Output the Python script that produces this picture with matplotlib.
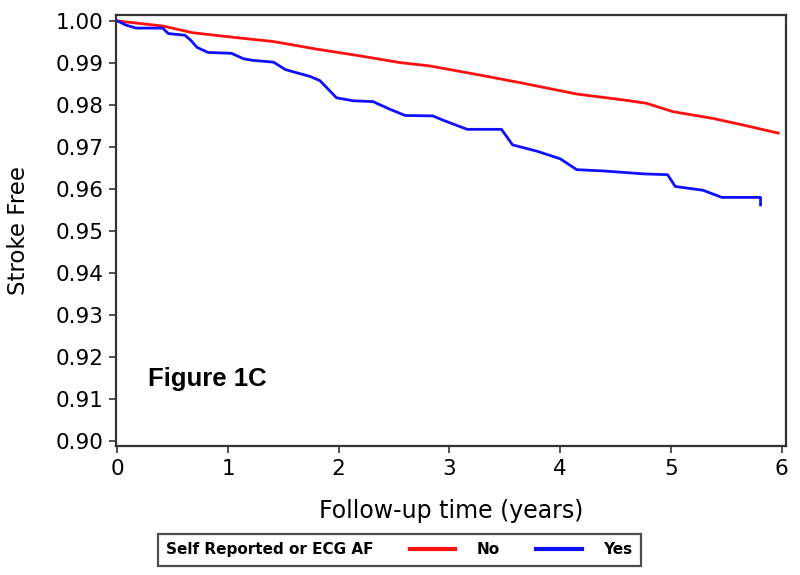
import matplotlib
matplotlib.use("Agg")
import matplotlib.pyplot as plt
from matplotlib.lines import Line2D

# Kaplan-Meier estimates
t_no = [0.0, 0.41, 0.68, 1.05, 1.41, 1.80, 2.19, 2.55, 2.82, 3.28, 3.66,
        4.15, 4.57, 4.78, 5.02, 5.38, 5.69, 5.97]
s_no = [1.0, 0.9988, 0.9972, 0.9961, 0.9951, 0.9933, 0.9917, 0.9901, 0.9893,
        0.9871, 0.9852, 0.9826, 0.9812, 0.9804, 0.9784, 0.9768, 0.9750, 0.9733]

t_yes = [0.0, 0.08, 0.17, 0.41, 0.46, 0.61, 0.66, 0.72, 0.82, 1.03, 1.14,
         1.23, 1.41, 1.52, 1.74, 1.83, 1.98, 2.13, 2.31, 2.46, 2.60, 2.85,
         2.94, 3.16, 3.47, 3.57, 3.79, 4.00, 4.15, 4.39, 4.75, 4.97, 5.04,
         5.29, 5.46, 5.81, 5.81]
s_yes = [1.0, 0.9990, 0.9983, 0.9983, 0.9970, 0.9966, 0.9955, 0.9937, 0.9925,
         0.9923, 0.9910, 0.9906, 0.9902, 0.9884, 0.9868, 0.9858, 0.9817,
         0.9810, 0.9808, 0.9790, 0.9775, 0.9774, 0.9764, 0.9742, 0.9742,
         0.9705, 0.9690, 0.9672, 0.9646, 0.9643, 0.9636, 0.9634, 0.9606,
         0.9597, 0.9580, 0.9580, 0.9562]

x_ticks = [0, 1, 2, 3, 4, 5, 6]
y_ticks = [0.90, 0.91, 0.92, 0.93, 0.94, 0.95, 0.96, 0.97, 0.98, 0.99, 1.00]

fig = plt.figure(figsize=(8, 5.75), dpi=100)
ax = fig.add_axes([0.145, 0.2243, 0.8375, 0.7497])

ax.plot(t_no, s_no, color="#ff1010", lw=2.0, label="No")
ax.plot(t_yes, s_yes, color="#1010ff", lw=2.0, label="Yes")

ax.set_xlim(-0.012, 6.04)
ax.set_ylim(0.89881, 1.00143)
ax.set_xticks(x_ticks)
ax.set_xticklabels([str(v) for v in x_ticks])
ax.set_yticks(y_ticks)
ax.set_yticklabels([f"{v:.2f}" for v in y_ticks])
ax.tick_params(direction="out", length=5, width=1.2, labelsize=15.5, pad=4,
               color="#333333")
for sp in ax.spines.values():
    sp.set_linewidth(1.6)
    sp.set_color("#333333")

ax.set_xlabel("Follow-up time (years)", fontsize=17, labelpad=15)
ax.set_ylabel("Stroke Free", fontsize=16.5, labelpad=18)

ax.text(0.048, 0.14, "Figure 1C", transform=ax.transAxes,
        fontsize=18.5, fontweight="bold",
        family=["Liberation Sans Narrow", "Liberation Sans", "DejaVu Sans"])

# legend: group title on the left, then the two strata
handles = [Line2D([], [], color="#ff1010", lw=3),
           Line2D([], [], color="#1010ff", lw=3)]
labels = ["No", "Yes"]
leg = fig.legend(handles, labels, loc="center", ncol=2,
                 title="Self Reported or ECG AF",
                 title_fontproperties={"weight": "bold", "size": 11},
                 bbox_to_anchor=(0.499, 0.0435), frameon=True,
                 fancybox=False, edgecolor="#222222",
                 handlelength=3, handletextpad=1.4, columnspacing=1.3,
                 borderpad=0.55, prop={"weight": "bold", "size": 11})
leg.get_frame().set_linewidth(1.6)
box = leg.get_children()[0]
title_box = box.get_children()[0]
cols = box.get_children()[1]
box._children = [cols]
cols._children = [title_box] + cols.get_children()
cols.sep = 26

fig.savefig("out.png", dpi=100)
